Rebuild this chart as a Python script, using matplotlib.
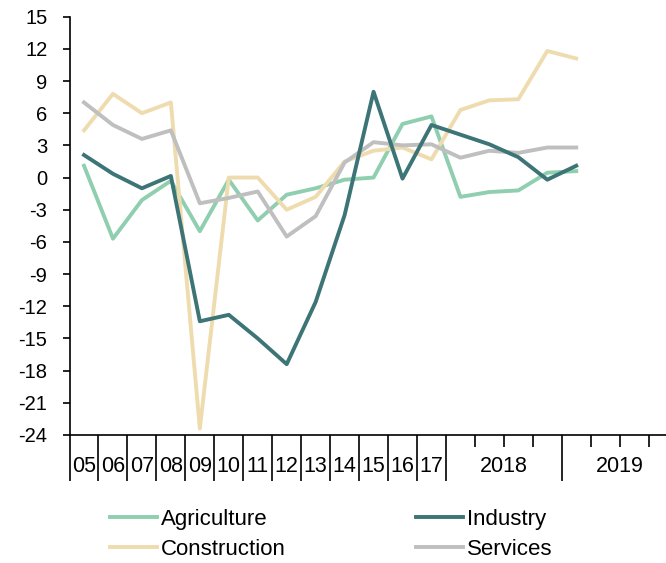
import matplotlib.pyplot as plt
import numpy as np
from matplotlib.lines import Line2D

plt.rcParams['font.family'] = ['Liberation Sans', 'DejaVu Sans']
plt.rcParams['axes.unicode_minus'] = False

# annual 2005-2017, then quarterly 2018Q1 .. 2019Q1
years = ['05', '06', '07', '08', '09', '10', '11', '12', '13', '14', '15', '16', '17']
groups = ['2018', '2019']
n_quarters = 4

agriculture = [1.1, -5.7, -2.1, -0.3, -5.0, -0.2, -4.0, -1.6, -1.0, -0.2, 0.0, 5.0, 5.7,
               -1.8, -1.35, -1.2, 0.45, 0.6]
industry = [2.1, 0.35, -1.0, 0.15, -13.4, -12.8, -15.0, -17.4, -11.6, -3.5, 8.0, -0.1, 4.9,
            4.0, 3.1, 1.9, -0.2, 1.1]
construction = [4.4, 7.8, 6.0, 7.0, -23.4, 0.0, 0.0, -3.0, -1.8, 1.5, 2.5, 2.8, 1.7,
                6.3, 7.2, 7.3, 11.8, 11.1]
services = [7.0, 4.9, 3.6, 4.4, -2.4, -1.9, -1.3, -5.5, -3.6, 1.4, 3.3, 3.0, 3.1,
            1.85, 2.5, 2.3, 2.8, 2.8]

colors = {'Agriculture': '#8fcfb0', 'Industry': '#3d7577',
          'Construction': '#efdcae', 'Services': '#bfbfbf'}

fig = plt.figure(figsize=(6.66, 5.63), dpi=100)
ax = fig.add_axes([0.1044, 0.2274, 0.8956, 0.743])

xpos = np.arange(len(agriculture)) + 0.5
lw = 2.8
ax.plot(xpos, agriculture, color=colors['Agriculture'], lw=lw)
ax.plot(xpos, construction, color=colors['Construction'], lw=lw)
ax.plot(xpos, services, color=colors['Services'], lw=lw)
ax.plot(xpos, industry, color=colors['Industry'], lw=lw)

xmax = 20.6
ax.set_ylim(-24, 15)
ax.set_yticks(np.arange(-24, 16, 3))
ax.set_xlim(0, xmax)

for s in ['top', 'right']:
    ax.spines[s].set_visible(False)
ax.spines['left'].set_linewidth(1.2)
ax.spines['bottom'].set_linewidth(1.2)
ax.tick_params(axis='y', direction='out', length=5, width=1.2, labelsize=14.5, pad=11)

# long ticks between years / groups, short ticks between quarters
nyr = len(years)
major = list(range(0, nyr + 1)) + [nyr + n_quarters, nyr + 2 * n_quarters]
major = [m for m in major if m <= xmax]
minor = [nyr + k for k in (1, 2, 3)] + [nyr + n_quarters + k for k in (1, 2, 3)]
ax.set_xticks(major)
ax.set_xticks(minor, minor=True)
ax.set_xticklabels([])
ax.tick_params(axis='x', which='major', direction='out', length=33, width=1.2)
ax.tick_params(axis='x', which='minor', direction='out', length=8.5, width=1.2)

for i, lab in enumerate(years):
    ax.annotate(lab, xy=(i + 0.5, 0), xycoords=('data', 'axes fraction'),
                xytext=(0, -23), textcoords='offset points',
                ha='center', va='center', fontsize=15.5)
for g, lab in enumerate(groups):
    xc = nyr + g * n_quarters + n_quarters / 2
    ax.annotate(lab, xy=(xc, 0), xycoords=('data', 'axes fraction'),
                xytext=(0, -23), textcoords='offset points',
                ha='center', va='center', fontsize=15.5)

legend_kw = dict(frameon=False, fontsize=16, loc='center left',
                 handlelength=2.1, handletextpad=0.2, labelspacing=0.42,
                 borderaxespad=0, borderpad=0)
fig.legend([Line2D([], [], color=colors['Agriculture'], lw=lw),
            Line2D([], [], color=colors['Construction'], lw=lw)],
           ['Agriculture', 'Construction'],
           bbox_to_anchor=(110 / 666, 0.0512), **legend_kw)
fig.legend([Line2D([], [], color=colors['Industry'], lw=lw),
            Line2D([], [], color=colors['Services'], lw=lw)],
           ['Industry', 'Services'],
           bbox_to_anchor=(416 / 666, 0.0512), **legend_kw)

fig.savefig('out.png', dpi=100)
